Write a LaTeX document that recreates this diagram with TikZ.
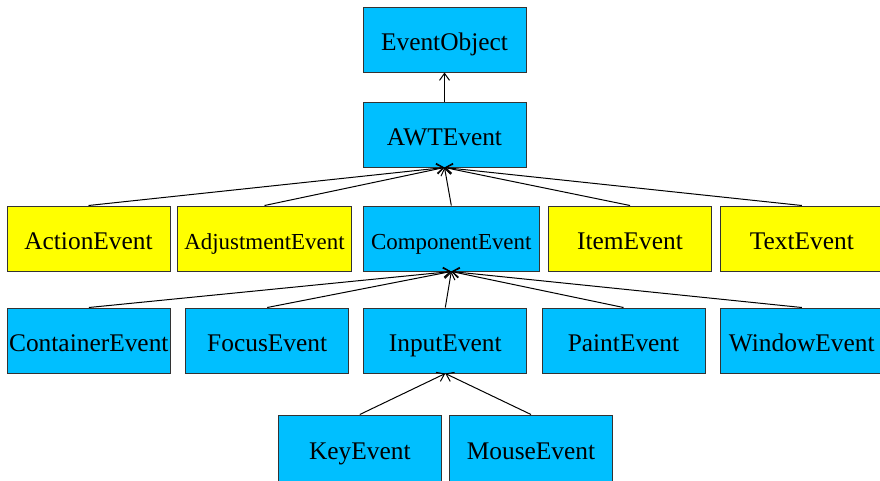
\documentclass[tikz,border=0pt]{standalone}
\usepackage{fontspec}
\setmainfont{Liberation Serif}
\usetikzlibrary{arrows.meta}
\definecolor{boxblue}{HTML}{00BFFF}
\definecolor{boxyellow}{HTML}{FFFF00}
\definecolor{boxline}{HTML}{333333}
\tikzset{
  evbox/.style={draw=boxline, line width=1pt, minimum width=163pt, minimum height=65pt,
    inner sep=0pt, text height=21pt, text depth=0pt,
    font=\fontsize{25.4}{30}\selectfont},
  bluebox/.style={evbox, fill=boxblue},
  yellowbox/.style={evbox, fill=boxyellow},
  smallfont/.style={font=\fontsize{22.9}{27}\selectfont},
  inherit/.style={draw=black, line width=1pt, -{Straight Barb[length=7pt,width=10pt]}}
}
\begin{document}
\begin{tikzpicture}[x=1pt,y=-1pt]
\useasboundingbox (0,0) rectangle (880,480);
% nodes
\node[bluebox] (eo) at (444.5,39.5) {EventObject};
\node[bluebox] (awt) at (444.5,134.5) {AWTEvent};
\node[yellowbox] (action) at (88.5,238.5) {ActionEvent};
\node[yellowbox, smallfont, minimum width=174pt] (adjust) at (264.5,238.5) {AdjustmentEvent};
\node[bluebox, smallfont, minimum width=176pt] (comp) at (451.3,238.5) {ComponentEvent};
\node[yellowbox] (item) at (630,238.5) {ItemEvent};
\node[yellowbox] (text) at (801.8,238.5) {TextEvent};
\node[bluebox] (cont) at (88.8,340.5) {ContainerEvent};
\node[bluebox] (focus) at (267.2,340.5) {FocusEvent};
\node[bluebox] (input) at (445.3,340.5) {InputEvent};
\node[bluebox] (paint) at (623.5,340.5) {PaintEvent};
\node[bluebox] (window) at (801.8,340.5) {WindowEvent};
\node[bluebox, minimum height=68pt] (key) at (359.8,449) {KeyEvent};
\node[bluebox, minimum height=68pt] (mouse) at (531,449) {MouseEvent};
% connectors
\draw[inherit] (awt.north) -- (eo.south);
\foreach \c in {action,adjust,comp,item,text}
  \draw[inherit] (\c.north) -- (awt.south);
\foreach \c in {cont,focus,input,paint,window}
  \draw[inherit] (\c.north) -- (comp.south);
\foreach \c in {key,mouse}
  \draw[inherit] (\c.north) -- (input.south);
\end{tikzpicture}
\end{document}
